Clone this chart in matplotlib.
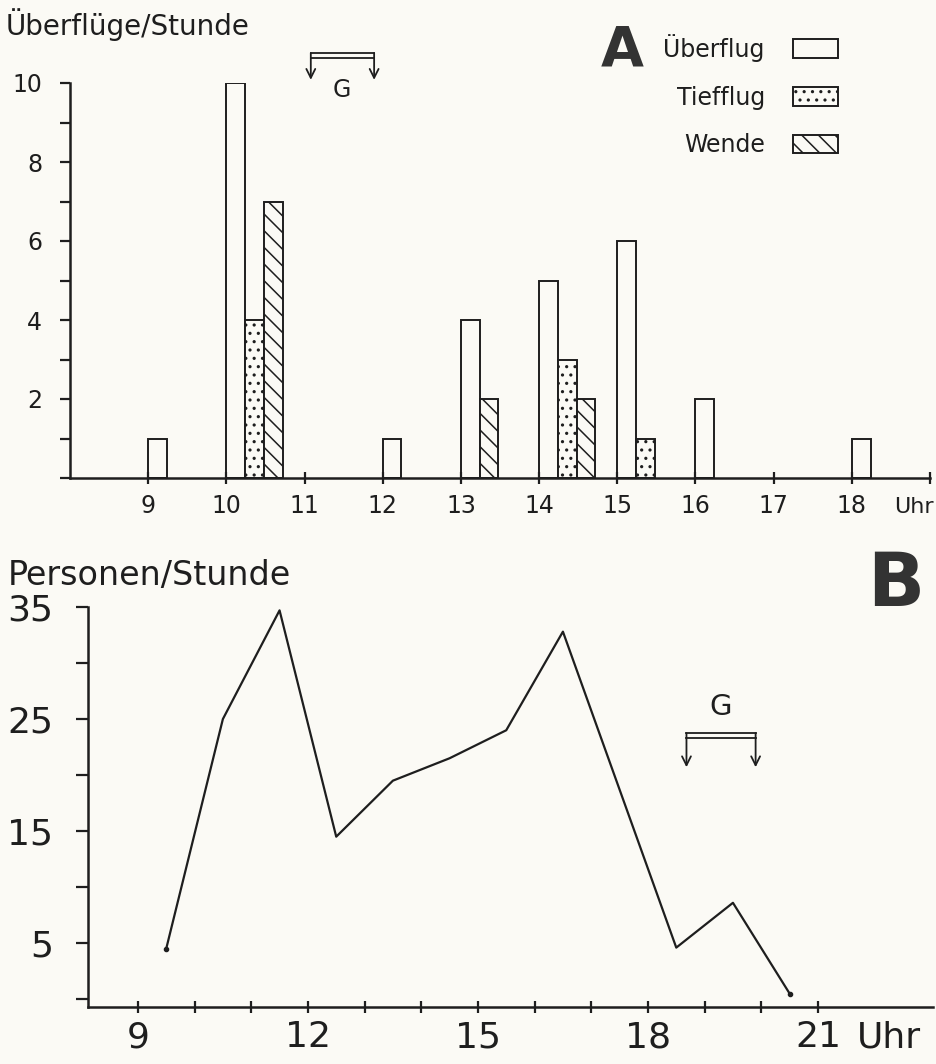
import numpy as np
import matplotlib.pyplot as plt

# panel A: flights per hour
hours_a = [9, 10, 11, 12, 13, 14, 15, 16, 17, 18]
ueberflug = [1, 10, 0, 1, 4, 5, 6, 2, 0, 1]
tiefflug = [0, 4, 0, 0, 0, 3, 1, 0, 0, 0]
wende = [0, 7, 0, 0, 2, 2, 0, 0, 0, 0]
series_names = ['Überflug', 'Tiefflug', 'Wende']

# panel B: persons per hour
hours_b = [9.5, 10.5, 11.5, 12.5, 13.5, 14.5, 15.5, 16.5, 18.5, 19.5, 20.5]
personen = [4.5, 25, 34.7, 14.5, 19.5, 21.5, 24, 32.8, 4.6, 8.6, 0.5]

W, H = 936, 1064
INK = '#1e1e1e'
PAPER = '#fbfaf5'
plt.rcParams['font.family'] = ['DejaVu Sans']
plt.rcParams['hatch.linewidth'] = 1.1
plt.rcParams['hatch.color'] = INK


def fx(x):
    return x / W


def fy(y):
    return 1 - y / H


def g_bracket(ax, x0, x1, y_top, y_low, y_tip, gx, gy, fs):
    for yy in (y_top, y_low):
        ax.plot([x0, x1], [yy, yy], color=INK, lw=1.3, clip_on=False)
    for xx in (x0, x1):
        ax.annotate('', xy=(xx, y_tip), xytext=(xx, y_top),
                    arrowprops=dict(arrowstyle='->', color=INK, lw=1.3,
                                    mutation_scale=16, shrinkA=0, shrinkB=0),
                    annotation_clip=False)
    ax.text(gx, gy, 'G', ha='center', va='center', fontsize=fs, color=INK)


fig = plt.figure(figsize=(W / 100, H / 100), dpi=100, facecolor=PAPER)

# ---------------- A ----------------
axA = fig.add_axes([fx(70), fy(478), fx(860), 395 / H])
axA.set_facecolor(PAPER)
bw = 0.24
hatches = ['', '..', '\\\\']
vals = [ueberflug, tiefflug, wende]
handles = []
for i, h in enumerate(hours_a):
    off = 0
    for k in range(3):
        v = vals[k][i]
        if v > 0:
            axA.bar(h + off, v, width=bw, align='edge', facecolor=PAPER,
                    edgecolor=INK, linewidth=1.4, hatch=hatches[k])
            off += bw
for k in range(3):
    handles.append(axA.bar([0], [0], width=0, facecolor=PAPER, edgecolor=INK,
                           linewidth=1.4, hatch=hatches[k], label=series_names[k]))
axA.set_xlim(8, 19)
axA.set_ylim(0, 10)
for s in ['top', 'right']:
    axA.spines[s].set_visible(False)
for s in ['left', 'bottom']:
    axA.spines[s].set_linewidth(1.8)
    axA.spines[s].set_color(INK)
axA.set_yticks(range(0, 11))
axA.set_yticklabels(['' if (t % 2 or t == 0) else str(t) for t in range(0, 11)])
axA.set_xticks(list(range(9, 20)))
axA.set_xticklabels([str(t) for t in range(9, 19)] + [''])
axA.tick_params(axis='y', direction='out', length=7, width=1.6, pad=13,
                labelsize=17, colors=INK)
axA.tick_params(axis='x', direction='inout', length=9, width=1.6, pad=7,
                labelsize=17, colors=INK)
fig.text(fx(934), fy(507), 'Uhr', ha='right', va='center', fontsize=16, color=INK)
fig.text(fx(6), fy(25), 'Überflüge/Stunde', ha='left', va='center', fontsize=20, color=INK)
fig.text(fx(622), fy(50), 'A', ha='center', va='center', fontsize=40,
         fontweight='bold', color='#333333')
g_bracket(axA, 11.08, 11.89, 10.76, 10.63, 10.08, 11.48, 9.82, 17)
leg = axA.legend(handles=handles, loc='upper right', markerfirst=False,
                 frameon=False, bbox_to_anchor=(fx(838), fy(34)),
                 bbox_transform=fig.transFigure, borderaxespad=0, borderpad=0,
                 fontsize=17, handlelength=1.9, handleheight=0.85,
                 labelspacing=1.0, handletextpad=1.2)
for t in leg.get_texts():
    t.set_color(INK)

# ---------------- B ----------------
axB = fig.add_axes([fx(88), fy(1007), fx(845), 400 / H])
axB.set_facecolor(PAPER)
axB.plot(hours_b, personen, color=INK, lw=1.6, marker='o', ms=3,
         markevery=[0, len(hours_b) - 1])
axB.set_xlim(8.12, 23.03)
axB.set_ylim(-0.7, 35)
for s in ['top', 'right']:
    axB.spines[s].set_visible(False)
for s in ['left', 'bottom']:
    axB.spines[s].set_linewidth(1.8)
    axB.spines[s].set_color(INK)
axB.set_yticks(range(0, 36, 5))
axB.set_yticklabels(['' if t in (0, 10, 20, 30) else str(t) for t in range(0, 36, 5)])
axB.set_xticks(range(9, 22))
axB.set_xticklabels([str(t) if t % 3 == 0 else '' for t in range(9, 22)])
axB.tick_params(axis='y', direction='out', length=9, width=1.6, pad=16,
                labelsize=26, colors=INK)
axB.tick_params(axis='x', direction='inout', length=9, width=1.6, pad=5,
                labelsize=26, colors=INK)
fig.text(fx(889), fy(1038), 'Uhr', ha='center', va='center', fontsize=26, color=INK)
fig.text(fx(8), fy(575), 'Personen/Stunde', ha='left', va='center', fontsize=24, color=INK)
fig.text(fx(896), fy(586), 'B', ha='center', va='center', fontsize=54,
         fontweight='bold', color='#333333')
g_bracket(axB, 18.68, 19.9, 23.75, 23.3, 20.7, 19.28, 26.1, 21)

fig.savefig('out.png', dpi=100, facecolor=PAPER)
